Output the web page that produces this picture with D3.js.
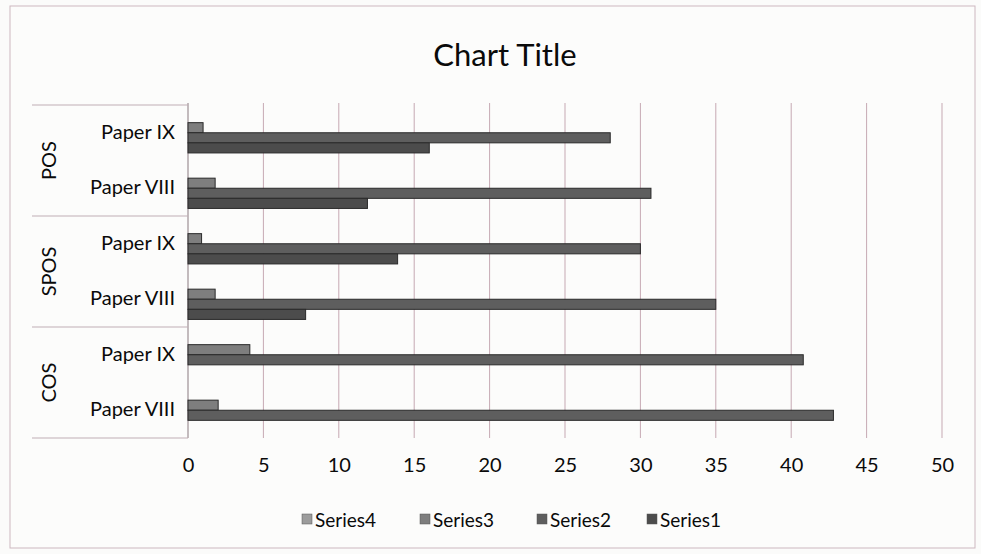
<!DOCTYPE html>
<html><head><meta charset="utf-8">
<script src="https://cdn.jsdelivr.net/npm/d3@7"></script>
<style>
html,body{margin:0;padding:0;background:#fbfbfa;}
svg{display:block;}
text{font-family:Lato,"Open Sans",sans-serif;fill:#0a0a0a;}
</style></head><body>
<svg id="c" width="981" height="554"></svg>
<script>
// ---- data (top to bottom as displayed) ----
const groups = ["POS", "SPOS", "COS"];
const papers = ["Paper IX", "Paper VIII"];
const categories = ["POS|Paper IX","POS|Paper VIII","SPOS|Paper IX","SPOS|Paper VIII","COS|Paper IX","COS|Paper VIII"];
const seriesNames = ["Series4","Series3","Series2","Series1"]; // top-to-bottom within cluster
const series1 = [16.0, 11.9, 13.9, 7.8, 0, 0];
const series2 = [28.0, 30.7, 30.0, 35.0, 40.8, 42.8];
const series3 = [1.0, 1.8, 0.9, 1.8, 4.1, 2.0];
const series4 = [0, 0, 0, 0, 0, 0];
const xTicks = [0,5,10,15,20,25,30,35,40,45,50];
const legendOrder = ["Series4","Series3","Series2","Series1"];

(function(){
const seriesValues = {Series1: series1, Series2: series2, Series3: series3, Series4: series4};
const seriesFill = {Series4:"#9c9c9c", Series3:"#7e7e7e", Series2:"#5e5e5e", Series1:"#4c4c4c"};

const svg = d3.select("#c");
svg.append("rect").attr("x",10).attr("y",6).attr("width",965).attr("height",542)
  .attr("fill","#fcfcfb").attr("stroke","#cdb8bf").attr("stroke-width",1);

svg.append("text").attr("x",505).attr("y",66).attr("text-anchor","middle")
  .style("font-size","31px").text("Chart Title");

const plotTop = 105, plotBottom = 438;
const x = d3.scaleLinear().domain([0,50]).range([188,942]);
const y = d3.scaleBand().domain(categories).range([plotTop,plotBottom]).paddingInner(0.2727).paddingOuter(0.1364);
const yInner = d3.scaleBand().domain(seriesNames).range([0, y.bandwidth()]);

svg.append("g").selectAll("line").data(xTicks).join("line")
  .attr("x1",d=>x(d)).attr("x2",d=>x(d)).attr("y1",plotTop-2).attr("y2",plotBottom)
  .attr("stroke",d=>d===0?"#8a7a80":"#c6a9b3").attr("stroke-width",1);

const xAxis = d3.axisBottom(x).tickValues(xTicks).tickSize(0).tickPadding(0);
const gx = svg.append("g").attr("transform",`translate(0,${plotBottom+20})`).call(xAxis);
gx.select(".domain").remove();
gx.selectAll("text").style("font-size","20px").style("font-family","Lato,'Open Sans',sans-serif").attr("fill","#0a0a0a").attr("dy","0.71em");

const gBars = svg.append("g");
seriesNames.forEach(s=>{
  gBars.selectAll(null).data(categories.map((c,i)=>({c, v: seriesValues[s][i]})).filter(d=>d.v>0)).join("rect")
    .attr("x",x(0)).attr("y",d=>y(d.c)+yInner(s))
    .attr("width",d=>x(d.v)-x(0)).attr("height",yInner.bandwidth())
    .attr("fill",seriesFill[s]).attr("stroke","#2a2a2a").attr("stroke-width",1);
});

const fullBand = d3.scaleBand().domain(categories).range([plotTop,plotBottom]);
svg.append("g").selectAll("text").data(categories).join("text")
  .attr("x",175).attr("y",d=>fullBand(d)+fullBand.bandwidth()/2 - 2)
  .attr("text-anchor","end").attr("dominant-baseline","central")
  .style("font-size","20px").text(d=>d.split("|")[1]);

const groupH = (plotBottom-plotTop)/groups.length;
const sepYs = d3.range(groups.length+1).map(i=>plotTop+i*groupH);
svg.append("g").selectAll("line").data(sepYs).join("line")
  .attr("x1",32).attr("x2",x(0)).attr("y1",d=>d).attr("y2",d=>d)
  .attr("stroke","#c0aeb5").attr("stroke-width",1);
svg.append("g").selectAll("text").data(groups).join("text")
  .attr("transform",(d,i)=>`translate(${48},${plotTop+(i+0.5)*groupH}) rotate(-90)`)
  .attr("text-anchor","middle").attr("dominant-baseline","central")
  .style("font-size","20px").text(d=>d);

const legX = [302, 420, 537, 647];
const lg = svg.append("g").selectAll("g").data(legendOrder).join("g")
  .attr("transform",(d,i)=>`translate(${legX[i]},519)`);
lg.append("rect").attr("x",0).attr("y",-5).attr("width",10).attr("height",10)
  .attr("fill",d=>seriesFill[d]).attr("stroke","#555").attr("stroke-width",0.5);
lg.append("text").attr("x",13).attr("y",0).attr("dominant-baseline","central")
  .style("font-size","19px").text(d=>d);
})();
</script>
</body></html>
